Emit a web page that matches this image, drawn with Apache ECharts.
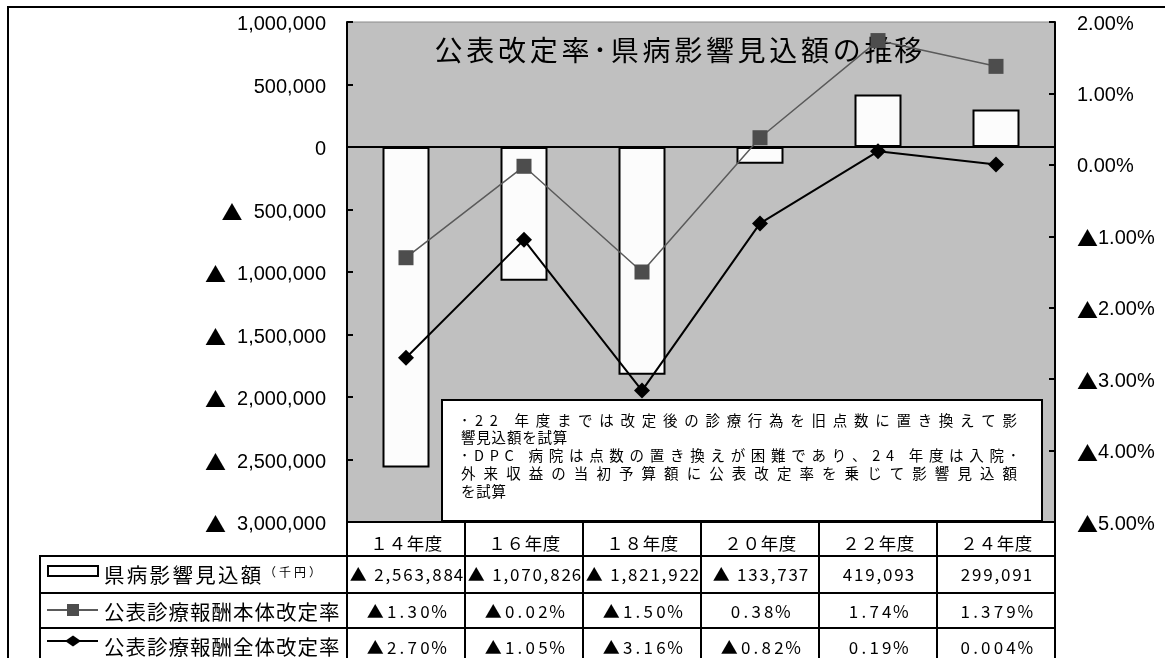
<!DOCTYPE html>
<html>
<head>
<meta charset="utf-8">
<script src="https://cdn.jsdelivr.net/npm/echarts@6/dist/echarts.min.js"></script>
<style>
  html, body { margin: 0; padding: 0; background: #fff; }
  #chart { width: 1165px; height: 658px; }
</style>
</head>
<body>
<div id="chart"></div>
<script>
// ---- data ----
const categories = ['１４年度', '１６年度', '１８年度', '２０年度', '２２年度', '２４年度'];
const impactAmount = [-2563884, -1070826, -1821922, -133737, 419093, 299091];   // 千円
const mainRevisionRate = [-1.30, -0.02, -1.50, 0.38, 1.74, 1.379];              // %
const totalRevisionRate = [-2.70, -1.05, -3.16, -0.82, 0.19, 0.004];            // %
const seriesNames = ['県病影響見込額', '公表診療報酬本体改定率', '公表診療報酬全体改定率'];
const amountUnit = '（千円）';
const titleText = '公表改定率･県病影響見込額の推移';
const noteLines = [
  '･22 年度までは改定後の診療行為を旧点数に置き換えて影',
  '響見込額を試算',
  '･DPC 病院は点数の置き換えが困難であり、24 年度は入院･',
  '外来収益の当初予算額に公表改定率を乗じて影響見込額',
  'を試算'
];
const noteJustified = [true, false, true, true, false];
const amountAxis = { min: -3000000, max: 1000000, step: 500000 };
const rateAxis = { min: -5, max: 2, step: 1 };

// ---- layout ----
const PLOT = { left: 347, top: 22, right: 1055, bottom: 522 };
const colW = (PLOT.right - PLOT.left) / categories.length;
const TABLE_ROWS = [522, 556, 593, 628, 664];
const LEGEND_LEFT = 40;
const FONT_JP = '"Noto Sans CJK JP", sans-serif';
const FONT_NUM = '"Liberation Sans", Arial, sans-serif';

// ---- formatting ----
function groupDigits(v) {
  return String(Math.abs(v)).replace(/\B(?=(\d{3})+(?!\d))/g, ',');
}
// negative values are written with a leading ▲ (drawn via the "tri" rich style)
function amountTick(v) { return v < 0 ? '{tri|▲}  ' + groupDigits(v) : groupDigits(v); }
function rateTick(v) { return v < 0 ? '{tri|▲}' + Math.abs(v).toFixed(2) + '%' : v.toFixed(2) + '%'; }
function decimalsOf(v) {
  const s = String(Math.abs(v));
  const i = s.indexOf('.');
  return i < 0 ? 0 : s.length - i - 1;
}
function rateCell(v) {
  const s = Math.abs(v).toFixed(Math.max(2, decimalsOf(v))) + '%';
  return v < 0 ? '▲' + s : s;
}
function amountCell(v) { return v < 0 ? '▲ ' + groupDigits(v) : groupDigits(v); }

// ---- letter-spaced text via rich tokens ----
const measureCtx = document.createElement('canvas').getContext('2d');
let richSeq = 0;
function spaced(str, size, family, spacing, target) {
  measureCtx.font = size + 'px ' + family;
  const chars = Array.from(str);
  const widths = chars.map(c => measureCtx.measureText(c).width);
  let sp = spacing;
  if (target != null && chars.length > 1) {
    const natural = widths.reduce((a, b) => a + b, 0);
    sp = (target - natural) / (chars.length - 1);
  }
  const rich = {};
  let text = '';
  chars.forEach((c, i) => {
    const key = 't' + (richSeq++);
    rich[key] = {
      width: widths[i] + (i < chars.length - 1 ? sp : 0),
      fontSize: size, fontFamily: family, fill: '#000'
    };
    text += '{' + key + '|' + c + '}';
  });
  return { text, rich };
}
function textEl(x, y, str, size, family, spacing, opts) {
  opts = opts || {};
  const r = spaced(str, size, family, spacing, opts.target);
  return {
    type: 'text', z: opts.z != null ? opts.z : 30, silent: true,
    style: {
      text: r.text, rich: r.rich, x: x, y: y,
      textAlign: opts.align || 'center', textVerticalAlign: 'middle',
      fill: '#000', fontSize: size, fontFamily: family
    }
  };
}
function line(x1, y1, x2, y2, color, width, z) {
  return {
    type: 'line', z: z || 30, silent: true,
    shape: { x1, y1, x2, y2 },
    style: { stroke: color || '#000', lineWidth: width || 2 }
  };
}

// ---- graphic pieces: frame, title, note box, data table ----
const graphics = [];

// outer frame
graphics.push({
  type: 'rect', z: 40, silent: true,
  shape: { x: 8, y: 7, width: 1200, height: 700 },
  style: { fill: null, stroke: '#000', lineWidth: 2 }
});

// title (kept beneath the series)
graphics.push(textEl((432 + 923) / 2, 50, titleText, 28, FONT_JP, 3.7, { z: 1 }));

// note box
graphics.push({
  type: 'rect', z: 20, silent: true,
  shape: { x: 442, y: 400, width: 600, height: 121 },
  style: { fill: '#fff', stroke: '#000', lineWidth: 2 }
});
const noteY = [420, 437.5, 455.5, 473.5, 491];
noteLines.forEach((s, i) => {
  graphics.push(textEl(461, noteY[i], s, 14.5, FONT_JP, 0.8,
    { align: 'left', z: 25, target: noteJustified[i] ? 556 : null }));
});

// table grid
const tableBottom = TABLE_ROWS[TABLE_ROWS.length - 1];
graphics.push(line(PLOT.left, TABLE_ROWS[0], PLOT.right, TABLE_ROWS[0]));
for (let r = 1; r < TABLE_ROWS.length - 1; r++) {
  graphics.push(line(LEGEND_LEFT, TABLE_ROWS[r], PLOT.right, TABLE_ROWS[r]));
}
graphics.push(line(LEGEND_LEFT, tableBottom, PLOT.right, tableBottom));
graphics.push(line(LEGEND_LEFT, TABLE_ROWS[1] - 1, LEGEND_LEFT, tableBottom));
for (let c = 0; c <= categories.length; c++) {
  const x = PLOT.left + colW * c;
  graphics.push(line(x, TABLE_ROWS[0] - 1, x, tableBottom));
}

// header row
categories.forEach((cat, c) => {
  graphics.push(textEl(PLOT.left + colW * (c + 0.5), 543, cat, 17.5, FONT_JP, 0.8));
});

// value rows
const rowValues = [impactAmount.map(amountCell), mainRevisionRate.map(rateCell), totalRevisionRate.map(rateCell)];
const rowSpacing = [1.8, 3.2, 3.2];
const rowTextY = [575, 612, 648];
rowValues.forEach((vals, r) => {
  vals.forEach((s, c) => {
    graphics.push(textEl(PLOT.left + colW * (c + 0.5), rowTextY[r], s, 17, FONT_JP, rowSpacing[r]));
  });
});

// legend keys
graphics.push({
  type: 'rect', z: 30, silent: true,
  shape: { x: 48, y: 566, width: 50, height: 10 },
  style: { fill: '#fff', stroke: '#000', lineWidth: 2 }
});
graphics.push(line(47, 610, 98, 610, '#5a5a5a', 2));
graphics.push({
  type: 'rect', z: 31, silent: true,
  shape: { x: 67, y: 604, width: 12, height: 12 },
  style: { fill: '#4d4d4d' }
});
graphics.push(line(47, 641, 98, 641, '#000', 2));
graphics.push({
  type: 'polygon', z: 31, silent: true,
  shape: { points: [[65, 641], [73, 635.5], [81, 641], [73, 646.5]] },
  style: { fill: '#000' }
});

// legend names
graphics.push(textEl(104, 575, seriesNames[0], 20.5, FONT_JP, 2.3, { align: 'left' }));
graphics.push(textEl(264, 572, amountUnit, 12, FONT_JP, 3, { align: 'left' }));
graphics.push(textEl(104, 612, seriesNames[1], 20.5, FONT_JP, 1.0, { align: 'left' }));
graphics.push(textEl(104, 647, seriesNames[2], 20.5, FONT_JP, 1.0, { align: 'left' }));

// ---- chart ----
const triRich = { tri: { fontFamily: FONT_JP, fontSize: 21, color: '#000' } };
const chart = echarts.init(document.getElementById('chart'), null, { renderer: 'canvas' });
chart.setOption({
  animation: false,
  backgroundColor: '#fff',
  grid: {
    left: PLOT.left, top: PLOT.top,
    width: PLOT.right - PLOT.left, height: PLOT.bottom - PLOT.top,
    show: true, backgroundColor: '#c0c0c0', borderColor: '#8a8a8a', borderWidth: 1,
    outerBoundsMode: 'none'
  },
  xAxis: {
    type: 'category', data: categories, boundaryGap: true,
    axisLine: { onZero: true, lineStyle: { color: '#000', width: 2 } },
    axisTick: { show: false }, axisLabel: { show: false }, splitLine: { show: false }
  },
  yAxis: [
    {
      type: 'value', position: 'left',
      min: amountAxis.min, max: amountAxis.max, interval: amountAxis.step,
      axisLine: { show: true, lineStyle: { color: '#000', width: 2 } },
      axisTick: { show: true, inside: true, length: 6, lineStyle: { color: '#000', width: 2 } },
      splitLine: { show: false },
      axisLabel: {
        formatter: amountTick, color: '#000', fontSize: 20, fontFamily: FONT_NUM,
        margin: 21, padding: [5, 0, 0, 0], rich: triRich
      }
    },
    {
      type: 'value', position: 'right',
      min: rateAxis.min, max: rateAxis.max, interval: rateAxis.step,
      axisLine: { show: true, lineStyle: { color: '#000', width: 2 } },
      axisTick: { show: true, inside: true, length: 6, lineStyle: { color: '#000', width: 2 } },
      splitLine: { show: false },
      axisLabel: {
        formatter: rateTick, color: '#000', fontSize: 20, fontFamily: FONT_NUM,
        margin: 22, padding: [4, 0, 0, 0], rich: triRich
      }
    }
  ],
  series: [
    {
      name: seriesNames[0], type: 'bar', yAxisIndex: 0, data: impactAmount,
      barWidth: 47, z: 2,
      itemStyle: { color: '#fcfcfc', borderColor: '#000', borderWidth: 2 }
    },
    {
      name: seriesNames[1], type: 'line', yAxisIndex: 1, data: mainRevisionRate,
      symbol: 'rect', symbolSize: 15, z: 3,
      lineStyle: { color: '#5a5a5a', width: 1.5 },
      itemStyle: { color: '#4d4d4d', borderWidth: 0 }
    },
    {
      name: seriesNames[2], type: 'line', yAxisIndex: 1, data: totalRevisionRate,
      symbol: 'diamond', symbolSize: 16, z: 4,
      lineStyle: { color: '#000', width: 2 },
      itemStyle: { color: '#000', borderWidth: 0 }
    }
  ],
  graphic: { elements: graphics }
});
</script>
</body>
</html>
